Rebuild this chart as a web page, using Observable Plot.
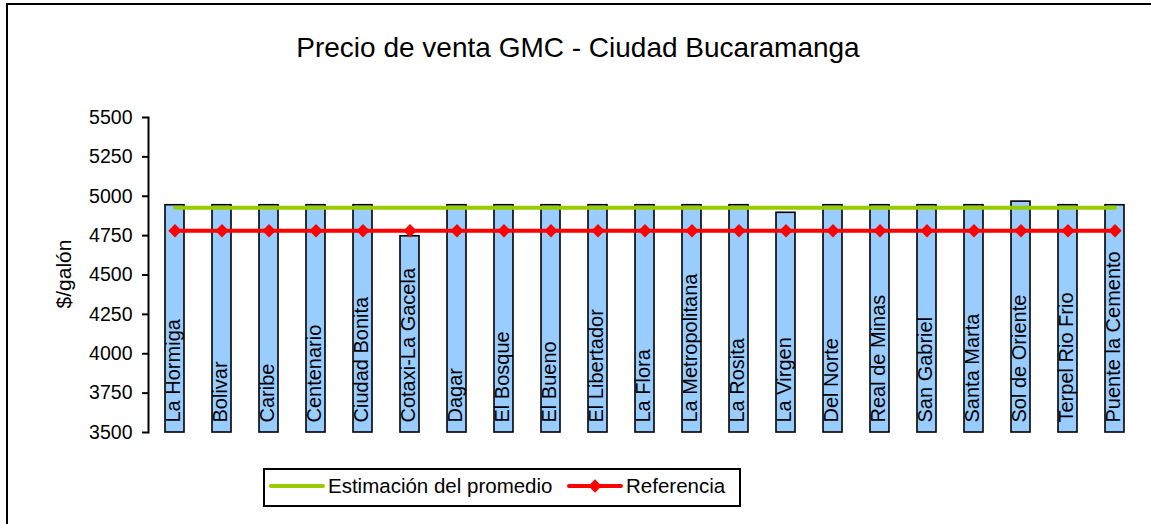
<!DOCTYPE html>
<html>
<head>
<meta charset="utf-8">
<script src="https://cdn.jsdelivr.net/npm/d3@7"></script>
<script src="https://cdn.jsdelivr.net/npm/@observablehq/plot@0.6"></script>
<style>
  html, body { margin: 0; padding: 0; background: #fff; }
  #wrap { position: relative; width: 1151px; height: 524px; overflow: hidden; font-family: "Liberation Sans", Arial, sans-serif; }
  #border { position: absolute; left: 6px; top: 3px; width: 1200px; height: 600px; border-left: 2px solid #000; border-top: 2px solid #000; }
  #chart { position: absolute; left: 0; top: 0; }
  #title { position: absolute; left: 0; width: 1156px; top: 30px; text-align: center; font-size: 28px; line-height: 36px; color: #000; }
  #ylabel { position: absolute; left: 64px; top: 274px; transform: translate(-50%, -50%) rotate(-90deg); font-size: 21px; white-space: nowrap; color: #000; }
  #legend { position: absolute; left: 263px; top: 468px; width: 474px; height: 35px; border: 2px solid #000; font-size: 20.5px; color: #000; }
  #legend .item { position: absolute; top: 0; height: 35px; line-height: 35px; white-space: nowrap; }
  #legend svg { position: absolute; top: 0; }
</style>
</head>
<body>
<div id="wrap">
  <div id="border"></div>
  <div id="chart"></div>
  <div id="title">Precio de venta GMC - Ciudad Bucaramanga</div>
  <div id="ylabel">$/galón</div>
  <div id="legend"></div>
</div>
<script>
const stations = ["La Hormiga","Bolivar","Caribe","Centenario","Ciudad Bonita","Cotaxi-La Gacela","Dagar","El Bosque","El Bueno","El Libertador","La Flora","La Metropolitana","La Rosita","La Virgen","Del Norte","Real de Minas","San Gabriel","Santa Marta","Sol de Oriente","Terpel Rio Frio","Puente la Cemento"];
const prices = [4943,4943,4943,4943,4943,4746,4943,4943,4943,4943,4943,4943,4943,4895,4943,4943,4943,4943,4966,4943,4943];
const estimacion = [4927,4927,4927,4927,4927,4927,4927,4927,4927,4927,4927,4927,4927,4927,4927,4927,4927,4927,4927,4927,4927];
const referencia = [4781,4781,4781,4781,4781,4781,4781,4781,4781,4781,4781,4781,4781,4781,4781,4781,4781,4781,4781,4781,4781];
const yTicks = [3500,3750,4000,4250,4500,4750,5000,5250,5500];
const yMin = 3500, yMax = 5500;
const seriesNames = ["Estimación del promedio", "Referencia"];

const rows = stations.map((s, i) => ({station: s, price: prices[i], est: estimacion[i], ref: referencia[i]}));

const font = '"Liberation Sans", Arial, sans-serif';
const plot = Plot.plot({
  width: 1151,
  height: 524,
  marginLeft: 148,
  marginRight: 10,
  marginTop: 117,
  marginBottom: 92,
  style: {fontFamily: font, background: "transparent", color: "#000", overflow: "visible"},
  x: {domain: stations, paddingInner: 0.6, paddingOuter: 0.3, axis: null},
  y: {domain: [yMin, yMax]},
  marks: [
    Plot.frame({anchor: "left", stroke: "#000", strokeWidth: 2}),
    Plot.axisY({ticks: yTicks, tickSize: 6, tickPadding: 10, fontSize: 19.5, label: null, stroke: "#000", strokeWidth: 2, tickFormat: d => String(d)}),
    Plot.barY(rows, {x: "station", y1: yMin, y2: "price", fill: "#99CCFF", stroke: "#000", strokeWidth: 1.6}),
    Plot.text(rows, {x: "station", y: yMin, text: "station", rotate: -90, textAnchor: "start", dx: -1, dy: -10, fontSize: 20, fill: "#000"}),
    Plot.lineY(rows, {x: "station", y: "est", stroke: "#99CC00", strokeWidth: 4}),
    Plot.lineY(rows, {x: "station", y: "ref", stroke: "#FF0000", strokeWidth: 4}),
    Plot.dot(rows, {x: "station", y: "ref", symbol: "diamond2", r: 6, fill: "#FF0000", stroke: "none"})
  ]
});
document.getElementById("chart").appendChild(plot);

// legend
const legend = document.getElementById("legend");
const items = [
  {name: seriesNames[0], color: "#99CC00", diamond: false, lineLeft: 4, textLeft: 63},
  {name: seriesNames[1], color: "#FF0000", diamond: true, lineLeft: 302, textLeft: 361}
];
for (const it of items) {
  const svg = d3.create("svg").attr("width", 56).attr("height", 35).style("left", it.lineLeft + "px");
  svg.append("line").attr("x1", 2).attr("x2", 54).attr("y1", 16).attr("y2", 16)
    .attr("stroke", it.color).attr("stroke-width", 4).attr("stroke-linecap", "round");
  if (it.diamond) {
    svg.append("path").attr("d", d3.symbol(d3.symbolDiamond2, 113)()).attr("transform", "translate(28,16)").attr("fill", it.color);
  }
  legend.appendChild(svg.node());
  const t = document.createElement("div");
  t.className = "item";
  t.style.left = it.textLeft + "px";
  t.style.top = "-2px";
  t.textContent = it.name;
  legend.appendChild(t);
}
</script>
</body>
</html>
